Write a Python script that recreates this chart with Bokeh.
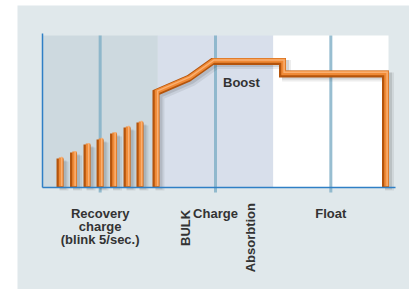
import numpy as np
from bokeh.plotting import figure
from bokeh.models import Range1d, LinearAxis
from bokeh.core.properties import value
from bokeh.embed import file_html
from bokeh.resources import INLINE

# ---------------- data ----------------
phase_edges = [0, 1, 2, 3]
phase_colors = ["#cdd9df", "#d8dfeb", "#ffffff"]
phase_top = 100
phase_label_x = [0.5, 1.5, 2.5]
phase_labels = ["Recovery\ncharge\n(blink 5/sec.)", "Charge", "Float"]

recovery_x = [0.152, 0.269, 0.386, 0.499, 0.616, 0.733, 0.845]
recovery_v = [19.1, 23.0, 28.3, 31.6, 35.5, 39.5, 42.8]

charge_x = [0.984, 0.984, 1.266, 1.474, 2.081, 2.081, 2.974, 2.974]
charge_v = [0.0, 62.5, 71.7, 82.9, 82.9, 74.7, 74.7, 0.0]

boost_label = ["Boost"]
boost_x = [1.725]
boost_y = [69.1]

stage_labels = ["BULK", "Absorbtion"]
stage_x = [1.240, 1.804]
stage_y = [-26.6, -33.0]

axis_x_end = 3.06
axis_y_end = 101.3

# ---------------- figure ----------------
PX_X = 346.0 / 3.0   # pixels per x unit
PX_Y = 1.52          # pixels per y unit

p = figure(width=409, height=289, output_backend="svg", toolbar_location=None,
           x_range=Range1d(-25 / PX_X, 367 / PX_X),
           y_range=Range1d(-102 / PX_Y, 182 / PX_Y),
           x_axis_type=None, y_axis_type=None,
           min_border_left=17, min_border_right=0, min_border_top=5, min_border_bottom=0,
           background_fill_color="#e0e8eb", border_fill_color="white",
           outline_line_color=None)

# phase background bands
p.quad(left=phase_edges[:-1], right=phase_edges[1:], bottom=0, top=phase_top,
       fill_color=phase_colors, line_color=None)

# vertical guide lines at phase centres (extend slightly below axis)
p.segment(x0=phase_label_x, y0=-5 / PX_Y, x1=phase_label_x, y1=phase_top,
          line_width=3, line_color="#7eaec6", line_alpha=0.8)

rx = np.array(recovery_x)
rv = np.array(recovery_v)
cx = np.array(charge_x)
cv = np.array(charge_v)

def layer(dx_px, dy_px, color, width, alpha=1.0):
    dx = dx_px / PX_X
    dy = dy_px / PX_Y
    p.segment(x0=rx + dx, y0=np.zeros_like(rv) + dy, x1=rx + dx, y1=rv + dy,
              line_color=color, line_width=width, line_alpha=alpha, line_cap="butt")
    p.line(cx + dx, cv + dy, line_color=color, line_width=width, line_alpha=alpha,
           line_join="miter", line_cap="butt")

# soft shadow
layer(4, -3, "#000000", 9, 0.07)
layer(3, -2, "#000000", 7, 0.10)
# tube shading
layer(0, 0, "#b4540c", 7)
layer(1, 1, "#f08a36", 4.5)
layer(1.6, 1.6, "#f9b072", 1.5)

# ---------------- axes ----------------
axis_kw = dict(axis_line_color="#2f7fc5", axis_line_width=1.5,
               major_tick_line_color=None, minor_tick_line_color=None,
               major_label_text_font_size="0px", major_label_text_color=None)
xa = LinearAxis(fixed_location=0, bounds=(0, axis_x_end), **axis_kw)
ya = LinearAxis(fixed_location=0, bounds=(0, axis_y_end), **axis_kw)
p.add_layout(xa, "below")
p.add_layout(ya, "left")

# ---------------- texts ----------------
FONT = value("Liberation Sans")
TXT = dict(text_font=FONT, text_font_style="bold", text_font_size="13px",
           text_color="#333333", text_align="center", text_baseline="alphabetic")

lx, ly, lt = [], [], []
first_base = -17.4
step = 13.0 / PX_Y
for x, lab in zip(phase_label_x, phase_labels):
    for i, line in enumerate(lab.split("\n")):
        lx.append(x)
        ly.append(first_base - i * step)
        lt.append(line)
p.text(x=lx, y=ly, text=lt, **TXT)

p.text(x=boost_x, y=boost_y, text=boost_label, **TXT)
p.text(x=stage_x, y=stage_y, text=stage_labels, angle=np.pi / 2, **TXT)

open("out.html", "w").write(file_html(p, INLINE))
